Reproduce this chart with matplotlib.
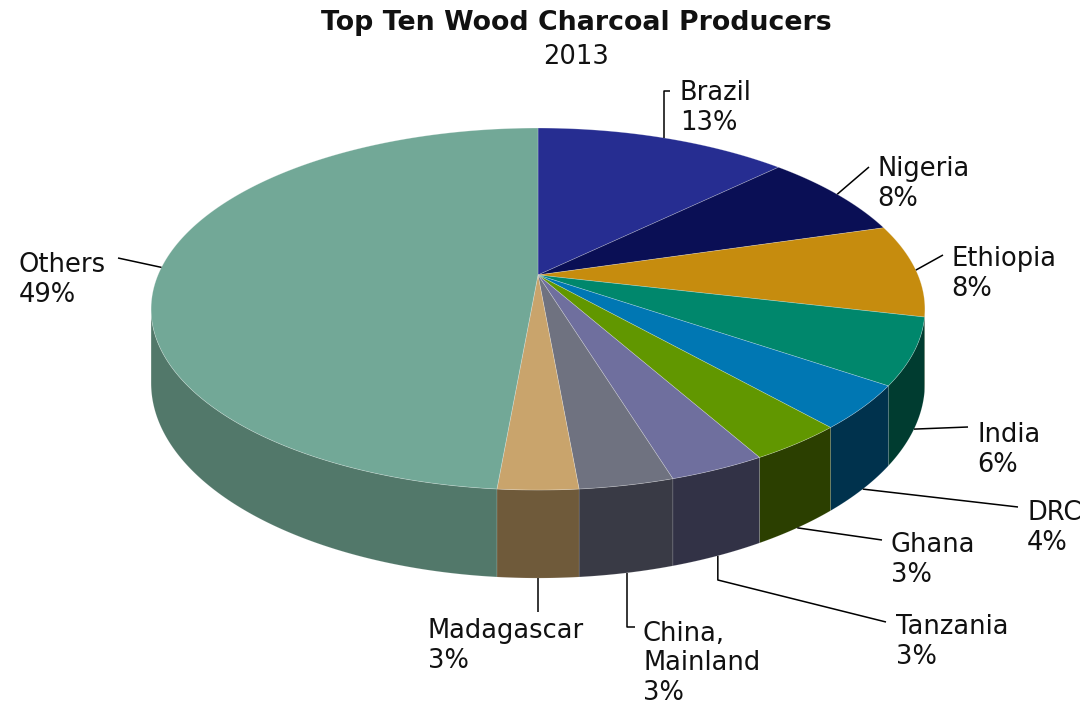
import numpy as np
import matplotlib.pyplot as plt
from matplotlib.patches import Polygon

# data (percent of world wood charcoal production, 2013)
countries = ['Brazil', 'Nigeria', 'Ethiopia', 'India', 'DRC', 'Ghana',
             'Tanzania', 'China,\nMainland', 'Madagascar', 'Others']
shares = [12.7, 7.7, 8.3, 5.9, 3.9, 3.4, 3.4, 3.3, 2.8, 48.6]

top_colors = ['#262D91', '#0A0F55', '#C68C0E', '#00876C', '#0077B3',
              '#619700', '#6F6F9E', '#6F7280', '#C9A46C', '#72A897']
side_colors = ['#141850', '#05082E', '#6E4E08', '#003C30', '#00324D',
               '#2B3F00', '#323246', '#393A45', '#6F5A3A', '#52786A']

# label layout: text left x, centre y of first line, line end, optional elbow y
label_pos = [(680, 91), (877, 167), (951, 257), (977, 432), (1027, 511),
             (891, 542), (896, 625), (643, 631), (428, 629), (19, 262)]
line_end = [(670, 91), (869, 167), (943, 255), (968, 427), (1018, 507),
            (882, 540), (886, 622), (635, 627), (None, 612), (118, 258)]
elbow_y = [91, None, None, None, None, None, 580, 627, None, None]

# perspective of the 3-D pie (pixel space)
CX, CY = 538, 275
RX, RY = 380, 174.6
K = -0.188
DEPTH = 71.5


def project(theta, drop=0.0):
    t = np.radians(theta)
    X = np.sin(t)
    Y = -np.cos(t)
    w = 1 + K * Y
    return CX + RX * X / w, CY + RY * Y / w + drop * DEPTH / w


fig = plt.figure(figsize=(10.89, 7.07), dpi=100)
ax = fig.add_axes([0, 0, 1, 1])
ax.set_xlim(0, 1089)
ax.set_ylim(707, 0)
ax.axis('off')

total = sum(shares)
bounds = np.concatenate([[0], np.cumsum(shares)]) / total * 360

# where the side wall is visible
grid = np.linspace(0, 360, 3601)
gx, _ = project(grid)
th_r = grid[np.argmax(gx)]
th_l = grid[np.argmin(gx)]

# side walls
for i in range(len(shares)):
    a0 = max(bounds[i], th_r)
    a1 = min(bounds[i + 1], th_l)
    if a1 <= a0:
        continue
    t = np.linspace(a0, a1, 120)
    x0, y0 = project(t)
    x1, y1 = project(t[::-1], 1.0)
    pts = np.column_stack([np.concatenate([x0, x1]), np.concatenate([y0, y1])])
    ax.add_patch(Polygon(pts, closed=True, facecolor=side_colors[i],
                         edgecolor=(1, 1, 1, 0.15), lw=0.5, zorder=1))

# top faces
for i in range(len(shares)):
    t = np.linspace(bounds[i], bounds[i + 1], 200)
    x, y = project(t)
    pts = np.column_stack([np.concatenate([[CX], x]), np.concatenate([[CY], y])])
    ax.add_patch(Polygon(pts, closed=True, facecolor=top_colors[i],
                         edgecolor=(1, 1, 1, 0.3), lw=0.5, zorder=2))

# labels and leader lines
for i, name in enumerate(countries):
    mid = (bounds[i] + bounds[i + 1]) / 2
    front = th_r < mid < th_l
    axp, ayp = project(mid, 1.0 if front else 0.0)
    xs, ys = [axp], [ayp]
    if elbow_y[i] is not None:
        xs.append(axp)
        ys.append(elbow_y[i])
    ex, ey = line_end[i]
    xs.append(axp if ex is None else ex)
    ys.append(ey)
    ax.plot(xs, ys, color='black', lw=1.1, zorder=3, solid_capstyle='butt')
    tx, ty = label_pos[i]
    pct = f"{round(shares[i] / total * 100):.0f}%"
    ax.text(tx, ty - 10.5, f"{name}\n{pct}", ha='left', va='top',
            fontsize=18.5, color='#111111', linespacing=1.2, zorder=4)

ax.text(576, 22.5, 'Top Ten Wood Charcoal Producers', ha='center', va='center',
        fontsize=19.3, fontweight='bold', color='#111111')
ax.text(576, 57, '2013', ha='center', va='center', fontsize=18.5, color='#111111')

fig.savefig('out.png', dpi=100)
